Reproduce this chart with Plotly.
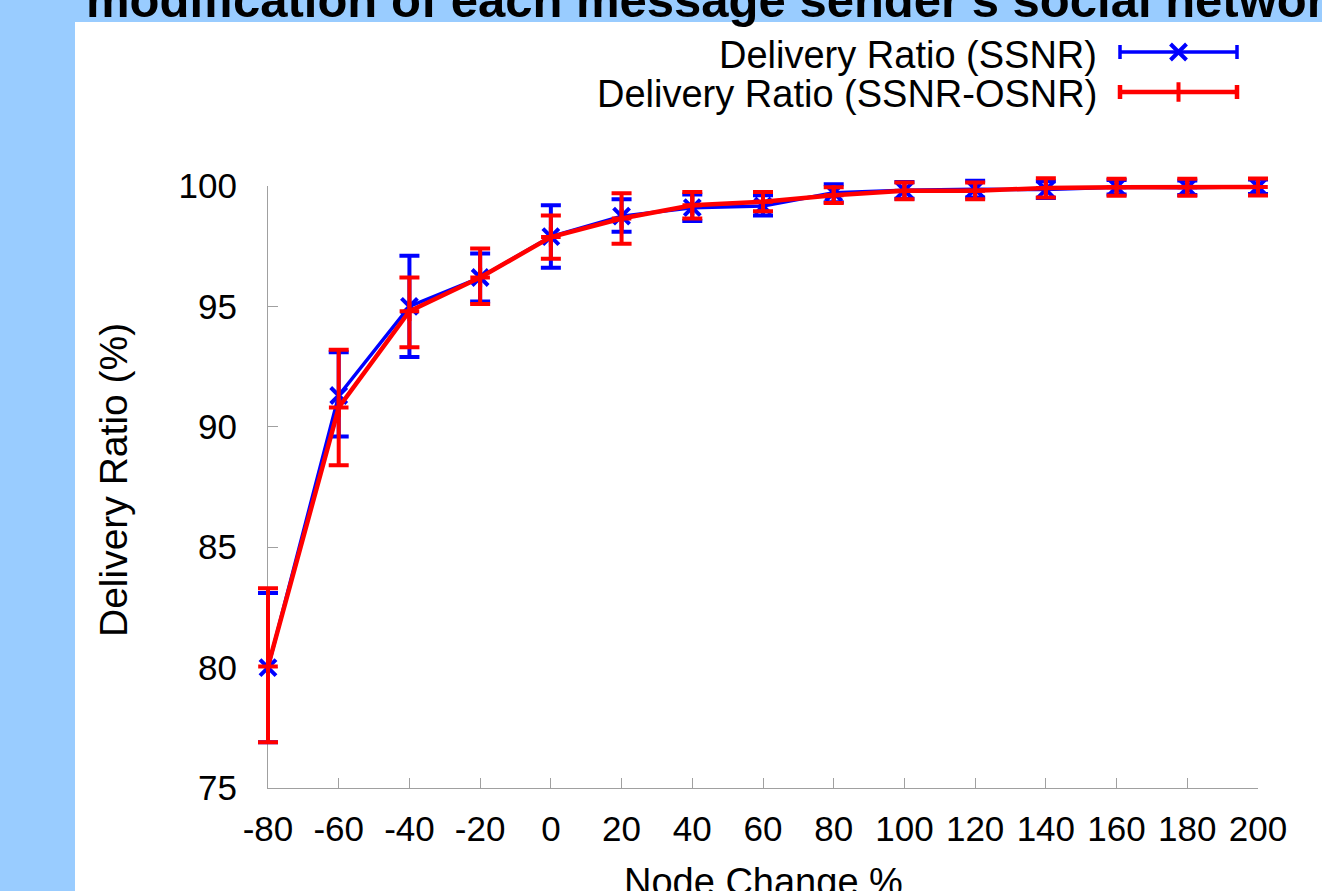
import plotly.graph_objects as go

# ---------------- data ----------------
node_change = [-80, -60, -40, -20, 0, 20, 40, 60, 80, 100, 120, 140, 160, 180, 200]
tick_labels = [str(v) for v in node_change]

ssnr = [80.0, 91.3, 95.0, 96.2, 97.9, 98.75, 99.1, 99.17, 99.72, 99.82, 99.87, 99.85, 99.95, 99.93, 99.97]
ssnr_err_plus = [3.1, 1.8, 2.1, 1.0, 1.3, 0.7, 0.55, 0.45, 0.35, 0.35, 0.35, 0.35, 0.3, 0.3, 0.3]
ssnr_err_minus = [3.1, 1.7, 2.1, 1.0, 1.3, 0.65, 0.55, 0.4, 0.4, 0.35, 0.35, 0.35, 0.3, 0.3, 0.3]

osnr = [80.05, 90.8, 94.8, 96.2, 97.88, 98.65, 99.2, 99.35, 99.62, 99.8, 99.8, 99.92, 99.95, 99.95, 99.96]
osnr_err_plus = [3.25, 2.4, 1.4, 1.2, 0.9, 1.05, 0.55, 0.4, 0.33, 0.35, 0.35, 0.4, 0.35, 0.35, 0.35]
osnr_err_minus = [3.15, 2.4, 1.5, 1.1, 0.9, 1.05, 0.55, 0.4, 0.33, 0.35, 0.35, 0.4, 0.35, 0.35, 0.35]

x_range = [-80, 200]
y_range = [75, 100]
y_ticks = [75, 80, 85, 90, 95, 100]

series_names = ["Delivery Ratio (SSNR)", "Delivery Ratio (SSNR-OSNR)"]
title_text = "modification of each message sender's social network"
x_title = "Node Change %"
y_title = "Delivery Ratio (%)"

# ---------------- layout helpers (pixel -> paper fractions) ----------------
W, H = 1322, 891
PL, PR, PT, PB = 150, 1302, 10, 841          # paper area in pixels
AX_L, AX_R, AX_T, AX_B = 268, 1258, 186, 788  # visible axes box in pixels


def px_x(px):
    return (px - PL) / (PR - PL)


def px_y(py):
    return (PB - py) / (PB - PT)


sx = (AX_R - AX_L) / (x_range[1] - x_range[0])
sy = (AX_B - AX_T) / (y_range[1] - y_range[0])
# data subplot: same scale as the visible axes, but a larger box so error bars are not clipped
DX_L, DX_R, DY_T, DY_B = 230, 1292, 150, 820
data_x_range = [x_range[0] - (AX_L - DX_L) / sx, x_range[1] + (DX_R - AX_R) / sx]
data_y_range = [y_range[0] - (DY_B - AX_B) / sy, y_range[1] + (AX_T - DY_T) / sy]

BLUE = "#0000ff"
RED = "#ff0000"
AXIS_GRAY = "#a0a0a0"
BG_BLUE = "#99ccff"
FONT = "Liberation Sans, Arial, sans-serif"
TICK_SIZE = 35
LABEL_SIZE = 38

fig = go.Figure()

# axes carrier on the visible x/y axes (draws nothing, only makes the axes subplot exist)
fig.add_trace(go.Scatter(x=node_change, y=ssnr, xaxis="x", yaxis="y", mode="none",
                         showlegend=False, hoverinfo="skip"))

# SSNR (blue)
fig.add_trace(go.Scatter(
    x=node_change, y=ssnr, xaxis="x2", yaxis="y2", mode="lines+markers", name=series_names[0],
    line=dict(color=BLUE, width=3.5),
    marker=dict(symbol="x-thin", size=16, color=BLUE, line=dict(color=BLUE, width=4)),
    error_y=dict(type="data", array=ssnr_err_plus, arrayminus=ssnr_err_minus,
                 color=BLUE, thickness=4, width=10),
    cliponaxis=False, showlegend=False,
))
# SSNR-OSNR (red)
fig.add_trace(go.Scatter(
    x=node_change, y=osnr, xaxis="x2", yaxis="y2", mode="lines+markers", name=series_names[1],
    line=dict(color=RED, width=4.5),
    marker=dict(symbol="cross-thin", size=14, color=RED, line=dict(color=RED, width=4)),
    error_y=dict(type="data", array=osnr_err_plus, arrayminus=osnr_err_minus,
                 color=RED, thickness=4, width=10),
    cliponaxis=False, showlegend=False,
))

# legend samples (gnuplot style: line with caps on both ends, marker in the middle)
legend_styles = [
    dict(color=BLUE, symbol="x-thin", size=16, lw=3.5),
    dict(color=RED, symbol="cross-thin", size=14, lw=4.5),
]
legend_rows = [0.75, 0.25]
for name, st, ry in zip(series_names, legend_styles, legend_rows):
    fig.add_trace(go.Scatter(
        x=[0.5], y=[ry], xaxis="x3", yaxis="y3", mode="markers",
        marker=dict(symbol=st["symbol"], size=st["size"], color=st["color"],
                    line=dict(color=st["color"], width=4)),
        error_x=dict(type="data", array=[0.5], color=st["color"], thickness=st["lw"], width=7),
        cliponaxis=False, showlegend=False, hoverinfo="skip",
    ))

annotations = []
legend_text_y = [55, 94]
for name, ty in zip(series_names, legend_text_y):
    annotations.append(dict(
        text=name, x=px_x(1099), y=px_y(ty), xref="paper", yref="paper",
        xanchor="right", yanchor="middle", showarrow=False,
        font=dict(family=FONT, size=LABEL_SIZE, color="black"),
    ))
annotations.append(dict(
    text="<b>" + title_text + "</b>", x=px_x(84), y=px_y(0), xref="paper", yref="paper",
    xanchor="left", yanchor="middle", showarrow=False,
    font=dict(family=FONT, size=49, color="black"),
))
annotations.append(dict(
    text=y_title, x=px_x(113), y=px_y(480), xref="paper", yref="paper",
    xanchor="center", yanchor="middle", textangle=-90, showarrow=False,
    font=dict(family=FONT, size=39, color="black"),
))
annotations.append(dict(
    text=x_title, x=px_x(763), y=px_y(882), xref="paper", yref="paper",
    xanchor="center", yanchor="middle", showarrow=False,
    font=dict(family=FONT, size=LABEL_SIZE, color="black"),
))

hidden = dict(visible=False, fixedrange=True, automargin=False, showgrid=False, zeroline=False)

fig.update_layout(
    width=W, height=H,
    margin=dict(l=PL, r=W - PR, t=PT, b=H - PB, pad=0, autoexpand=False),
    paper_bgcolor=BG_BLUE,
    plot_bgcolor="rgba(0,0,0,0)",
    showlegend=False,
    font=dict(family=FONT, size=TICK_SIZE, color="black"),
    shapes=[dict(type="rect", xref="paper", yref="paper", layer="below",
                 x0=px_x(75), x1=px_x(W + 5), y0=px_y(H + 5), y1=px_y(22),
                 fillcolor="white", line=dict(width=0))],
    annotations=annotations,
    xaxis=dict(
        range=x_range, tickvals=node_change, ticktext=tick_labels,
        showline=True, linecolor=AXIS_GRAY, linewidth=1, mirror=False,
        ticks="inside", ticklen=10, tickcolor=AXIS_GRAY, tickwidth=1,
        showgrid=False, zeroline=False, ticklabelstandoff=10, automargin=False,
        tickfont=dict(family=FONT, size=TICK_SIZE, color="black"),
        domain=[px_x(AX_L), px_x(AX_R)], anchor="y", fixedrange=True,
    ),
    yaxis=dict(
        range=y_range, tickvals=y_ticks,
        showline=True, linecolor=AXIS_GRAY, linewidth=1, mirror=False,
        ticks="inside", ticklen=10, tickcolor=AXIS_GRAY, tickwidth=1,
        showgrid=False, zeroline=False, ticklabelstandoff=23, automargin=False,
        tickfont=dict(family=FONT, size=TICK_SIZE, color="black"),
        domain=[px_y(AX_B), px_y(AX_T)], anchor="x", fixedrange=True,
    ),
    xaxis2=dict(domain=[px_x(DX_L), px_x(DX_R)], range=data_x_range, anchor="y2", **hidden),
    yaxis2=dict(domain=[px_y(DY_B), px_y(DY_T)], range=data_y_range, anchor="x2", **hidden),
    xaxis3=dict(domain=[px_x(1100), px_x(1257)], range=[-20 / 117, 1 + 20 / 117], anchor="y3", **hidden),
    yaxis3=dict(domain=[px_y(112), px_y(32)], range=[0, 1], anchor="x3", **hidden),
)

fig.write_html("out.html", config={"displayModeBar": False},
               post_script="document.body.style.margin='0px';document.body.style.overflow='hidden';")
